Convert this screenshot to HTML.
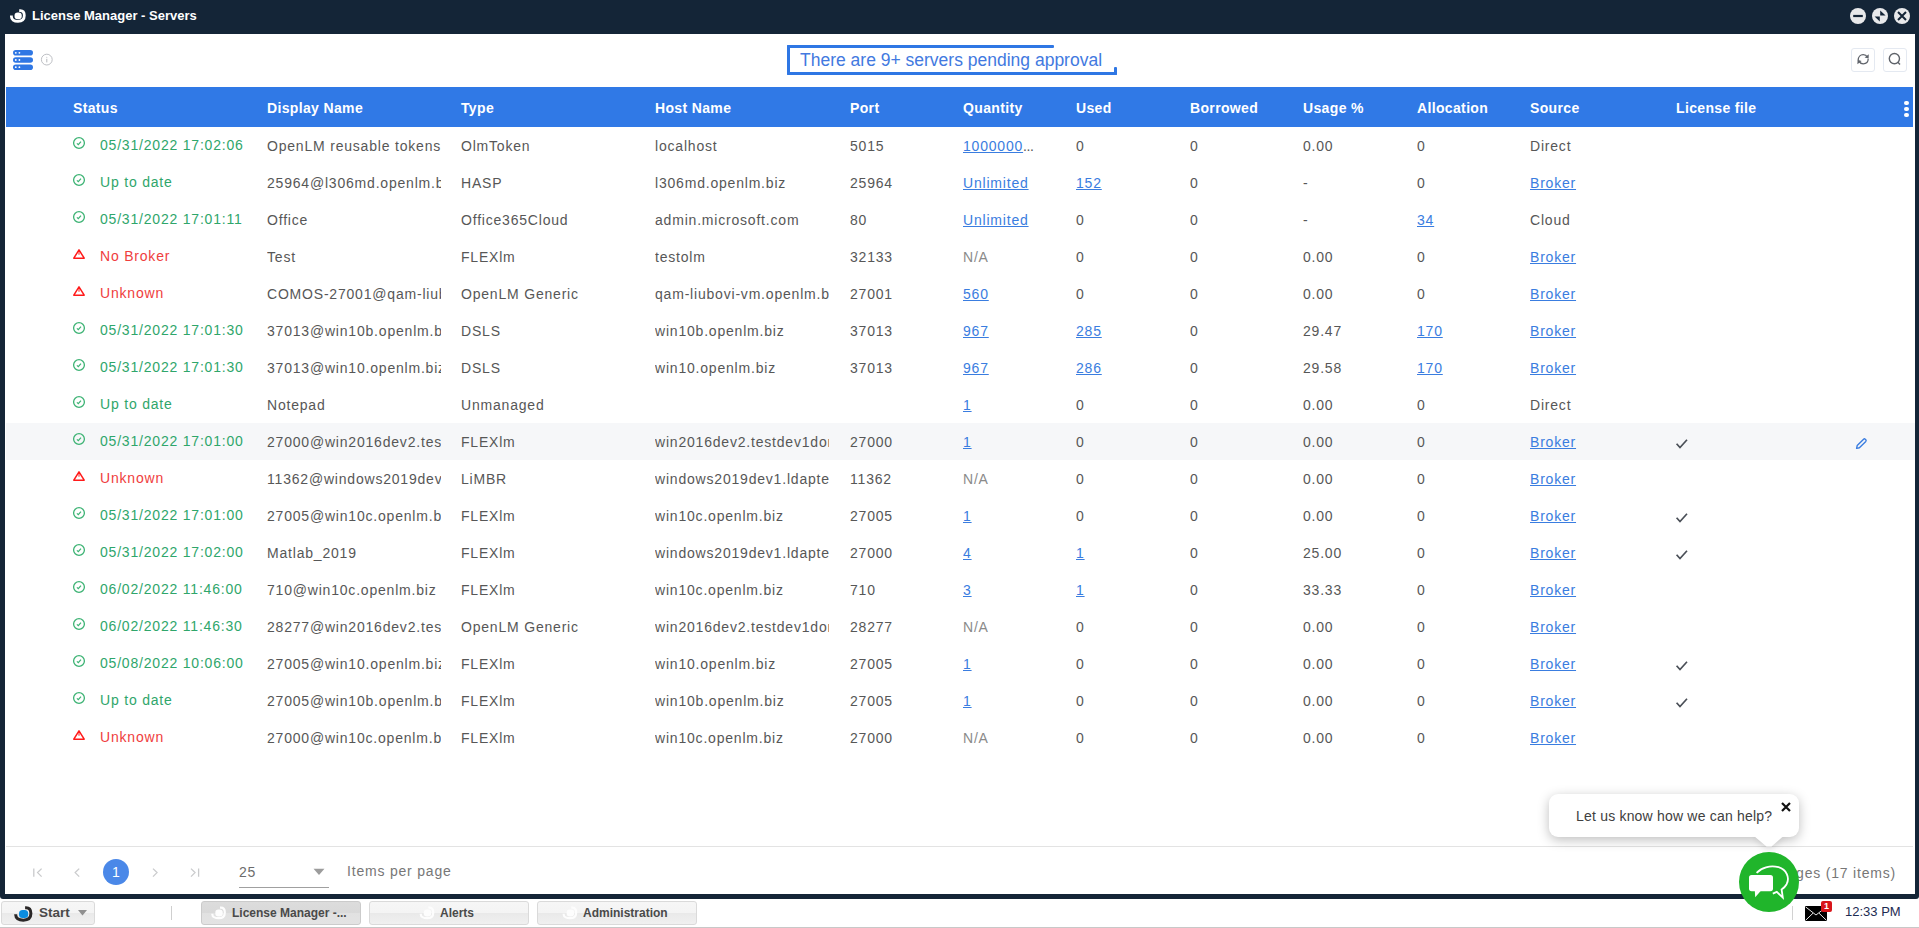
<!DOCTYPE html>
<html><head><meta charset="utf-8">
<style>
*{box-sizing:border-box}
html,body{margin:0;padding:0}
body{width:1919px;height:928px;overflow:hidden;position:relative;background:#fff;font-family:"Liberation Sans",sans-serif}
.abs{position:absolute}
#frame{position:absolute;left:0;top:0;width:1919px;height:899px;background:#142537;border-radius:0 0 3px 3px}
#title{position:absolute;left:32px;top:8px;font-size:13px;font-weight:bold;color:#fff;line-height:16px;white-space:nowrap}
#content{position:absolute;left:5px;top:34px;width:1910px;height:860px;background:#fff;overflow:hidden}
.wc{position:absolute;top:8px;width:16px;height:16px;border-radius:50%;background:#e8e9eb}
#tb{position:absolute;left:0;top:0;width:1910px;height:53px}
#grid{position:absolute;left:0;top:0;width:1919px;height:928px}
#ghead{position:absolute;left:6px;top:87px;width:1907px;height:40px;background:#3079e6}
.h{position:absolute;top:87px;height:40px;line-height:42px;color:#fff;font-weight:bold;font-size:14px;letter-spacing:0.35px;white-space:nowrap}
.row{position:absolute;left:6px;width:1909px;height:37px}
.row.hl{background:#f6f7f9}
.c{position:absolute;top:1px;height:37px;line-height:36px;font-size:14px;letter-spacing:0.8px;color:#575757;white-space:nowrap;overflow:hidden;margin-left:-6px}
.c.lk{color:#3a7de0}
.c u{text-decoration:underline;text-underline-offset:1px}
.c.st{top:0}
.c.na{color:#8a8a8a}
.c.st.g{color:#2fa66b}
.c.st.r{color:#ef3d3d}
.ic{position:absolute;top:9px;margin-left:-6px}
.si{display:block}
.tick{position:absolute;top:13px;margin-left:-6px}
.pen{position:absolute;top:14px;margin-left:-6px}
#pager-line{position:absolute;left:6px;top:846px;width:1907px;height:1px;background:#e3e3e3}
.pg{position:absolute;color:#b9b9b9;font-size:14px}
#taskbar{position:absolute;left:0;top:899px;width:1919px;height:29px;background:#fff;border-bottom:1px solid #c8c8c8}
.tbtn{position:absolute;top:2px;height:24px;border:1px solid #dadada;border-radius:3px;background:linear-gradient(#f6f6f6 0,#f4f4f4 50%,#e9e9e9 50%,#f0f0f0 100%);font-size:13px;font-weight:bold;color:#4a4a4a;line-height:22px;white-space:nowrap}
</style></head>
<body>
<div id="frame"></div>
<!-- title icon -->
<svg class="abs" style="left:0;top:0" width="34" height="34" viewBox="0 0 34 34"><path d="M19.2 10.6 H20.3 C23.3 10.6 24.3 12.8 24.3 15.6 C24.3 19.6 21.8 21.3 18 21.3 C13.8 21.3 11.4 19.5 11.4 16.6 V15.6" fill="none" stroke="#fff" stroke-width="2.8"/><rect x="14.5" y="12.5" width="7.3" height="6.8" rx="3.2" fill="#fff"/></svg>
<div id="title">License Manager - Servers</div>
<div class="wc" style="left:1850px"><svg width="16" height="16" viewBox="0 0 16 16"><rect x="3.2" y="6.9" width="9.6" height="2.2" fill="#142537"/></svg></div>
<div class="wc" style="left:1872px"><svg width="16" height="16" viewBox="0 0 16 16"><path d="M8.2 2.4 L13.6 7.6 L8.2 7.6 Z M7.8 13.4 L2.6 8.4 L7.8 8.4 Z" fill="#142537"/></svg></div>
<div class="wc" style="left:1894px"><svg width="16" height="16" viewBox="0 0 16 16"><path d="M4 4 L12 12 M12 4 L4 12" stroke="#142537" stroke-width="2"/></svg></div>

<div id="content"></div>

<div id="grid">
<!-- toolbar left icons -->
<svg class="abs" style="left:13px;top:50px" width="20" height="20" viewBox="0 0 20 20">
<rect x="0" y="0" width="20" height="5.6" rx="2.8" fill="#2f77e4"/><rect x="0" y="7.2" width="20" height="5.6" rx="2.8" fill="#2f77e4"/><rect x="0" y="14.4" width="20" height="5.6" rx="2.8" fill="#2f77e4"/>
<circle cx="2.8" cy="2.8" r="0.9" fill="#fff"/><circle cx="6.4" cy="2.8" r="0.9" fill="#fff"/>
<circle cx="2.8" cy="10" r="0.9" fill="#fff"/><circle cx="6.4" cy="10" r="0.9" fill="#fff"/>
<circle cx="2.8" cy="17.2" r="0.9" fill="#fff"/><circle cx="6.4" cy="17.2" r="0.9" fill="#fff"/>
</svg>
<svg class="abs" style="left:40px;top:53px" width="14" height="14" viewBox="0 0 14 14"><circle cx="6.8" cy="6.6" r="5.4" fill="none" stroke="#b5b8bd" stroke-width="0.9"/><path d="M6.8 5.8 V9.4" stroke="#b5b8bd" stroke-width="1"/><circle cx="6.8" cy="4.2" r="0.5" fill="#b5b8bd"/></svg>

<!-- banner -->
<div class="abs" style="left:787px;top:45px;width:267px;height:3px;background:#2f77e4;border-radius:1px"></div>
<div class="abs" style="left:787px;top:45px;width:3px;height:30px;background:#2f77e4;border-radius:1px"></div>
<div class="abs" style="left:787px;top:72px;width:330px;height:3px;background:#2f77e4;border-radius:1px"></div>
<div class="abs" style="left:1114px;top:67px;width:3px;height:8px;background:#2f77e4;border-radius:1px"></div>
<div class="abs" style="left:800px;top:48px;font-size:17.5px;line-height:24px;color:#4279e0;white-space:nowrap">There are 9+ servers pending approval</div>

<!-- right toolbar buttons -->
<div class="abs" style="left:1851px;top:48px;width:24px;height:24px;border:1px solid #e4e9f1;border-radius:3px"></div>
<svg class="abs" style="left:1850px;top:48px" width="26" height="24" viewBox="1850 48 26 24"><path d="M1858.2 60.2 C1858.2 56.8 1860.4 54.6 1863.2 54.6 C1865.2 54.6 1866.6 55.6 1867.4 57" fill="none" stroke="#5f636a" stroke-width="1.25"/><path d="M1868.8 54.2 L1868.6 58.6 L1864.6 57.4 Z" fill="#5f636a"/><path d="M1868.2 58.8 C1868.2 62 1866 63.8 1863.2 63.8 C1861.2 63.8 1859.8 62.8 1859 61.4" fill="none" stroke="#5f636a" stroke-width="1.25"/><path d="M1857.4 64.2 L1857.6 59.8 L1861.6 61 Z" fill="#5f636a"/></svg>
<div class="abs" style="left:1883px;top:48px;width:24px;height:24px;border:1px solid #e4e9f1;border-radius:3px"></div>
<svg class="abs" style="left:1887px;top:52px" width="15" height="15" viewBox="0 0 15 15"><circle cx="7.4" cy="6.6" r="5.1" fill="none" stroke="#5f636a" stroke-width="1.4"/><path d="M10.9 10.2 L13 12.4" stroke="#5f636a" stroke-width="1.4"/></svg>

<div id="ghead"></div>
<div class="h" style="left:73px">Status</div><div class="h" style="left:267px">Display Name</div><div class="h" style="left:461px">Type</div><div class="h" style="left:655px">Host Name</div><div class="h" style="left:850px">Port</div><div class="h" style="left:963px">Quantity</div><div class="h" style="left:1076px">Used</div><div class="h" style="left:1190px">Borrowed</div><div class="h" style="left:1303px">Usage %</div><div class="h" style="left:1417px">Allocation</div><div class="h" style="left:1530px">Source</div><div class="h" style="left:1676px">License file</div>
<div class="abs" style="left:1904.4px;top:100.9px;width:4.6px;height:4.6px;border-radius:50%;background:#fff"></div>
<div class="abs" style="left:1904.4px;top:106.7px;width:4.6px;height:4.6px;border-radius:50%;background:#fff"></div>
<div class="abs" style="left:1904.4px;top:112.5px;width:4.6px;height:4.6px;border-radius:50%;background:#fff"></div>

<div class="row" style="top:127px"><div class="ic" style="left:72px"><svg class="si" width="14" height="14" viewBox="0 0 14 14"><circle cx="7" cy="7" r="5.4" fill="none" stroke="#3db374" stroke-width="1.3"/><path d="M4.9 7.4 L6.3 8.7 L9 5.6" fill="none" stroke="#3db374" stroke-width="1.2"/></svg></div><div class="c st g" style="left:100px;width:150px">05/31/2022 17:02:06</div><div class="c" style="left:267px;width:174px">OpenLM reusable tokens</div><div class="c" style="left:461px;width:174px">OlmToken</div><div class="c" style="left:655px;width:174px">localhost</div><div class="c" style="left:850px;width:100px">5015</div><div class="c lk" style="left:963px;width:93px"><u>1000000</u><span style="letter-spacing:-0.4px;color:#555">...</span></div><div class="c" style="left:1076px;width:100px">0</div><div class="c" style="left:1190px;width:100px">0</div><div class="c" style="left:1303px;width:100px">0.00</div><div class="c" style="left:1417px;width:100px">0</div><div class="c" style="left:1530px;width:120px">Direct</div></div>
<div class="row" style="top:164px"><div class="ic" style="left:72px"><svg class="si" width="14" height="14" viewBox="0 0 14 14"><circle cx="7" cy="7" r="5.4" fill="none" stroke="#3db374" stroke-width="1.3"/><path d="M4.9 7.4 L6.3 8.7 L9 5.6" fill="none" stroke="#3db374" stroke-width="1.2"/></svg></div><div class="c st g" style="left:100px;width:150px">Up to date</div><div class="c" style="left:267px;width:174px">25964@l306md.openlm.biz</div><div class="c" style="left:461px;width:174px">HASP</div><div class="c" style="left:655px;width:174px">l306md.openlm.biz</div><div class="c" style="left:850px;width:100px">25964</div><div class="c lk" style="left:963px;width:93px"><u>Unlimited</u></div><div class="c lk" style="left:1076px;width:100px"><u>152</u></div><div class="c" style="left:1190px;width:100px">0</div><div class="c" style="left:1303px;width:100px">-</div><div class="c" style="left:1417px;width:100px">0</div><div class="c lk" style="left:1530px;width:120px"><u>Broker</u></div></div>
<div class="row" style="top:201px"><div class="ic" style="left:72px"><svg class="si" width="14" height="14" viewBox="0 0 14 14"><circle cx="7" cy="7" r="5.4" fill="none" stroke="#3db374" stroke-width="1.3"/><path d="M4.9 7.4 L6.3 8.7 L9 5.6" fill="none" stroke="#3db374" stroke-width="1.2"/></svg></div><div class="c st g" style="left:100px;width:150px">05/31/2022 17:01:11</div><div class="c" style="left:267px;width:174px">Office</div><div class="c" style="left:461px;width:174px">Office365Cloud</div><div class="c" style="left:655px;width:174px">admin.microsoft.com</div><div class="c" style="left:850px;width:100px">80</div><div class="c lk" style="left:963px;width:93px"><u>Unlimited</u></div><div class="c" style="left:1076px;width:100px">0</div><div class="c" style="left:1190px;width:100px">0</div><div class="c" style="left:1303px;width:100px">-</div><div class="c lk" style="left:1417px;width:100px"><u>34</u></div><div class="c" style="left:1530px;width:120px">Cloud</div></div>
<div class="row" style="top:238px"><div class="ic" style="left:72px"><svg class="si" width="14" height="14" viewBox="0 0 14 14"><path d="M7 2.8 L12.2 11.2 L1.8 11.2 Z" fill="none" stroke="#ff1a1a" stroke-width="1.5" stroke-linejoin="round"/><path d="M7 5 V7.8" stroke="#ff5050" stroke-width="1.3"/></svg></div><div class="c st r" style="left:100px;width:150px">No Broker</div><div class="c" style="left:267px;width:174px">Test</div><div class="c" style="left:461px;width:174px">FLEXlm</div><div class="c" style="left:655px;width:174px">testolm</div><div class="c" style="left:850px;width:100px">32133</div><div class="c na" style="left:963px;width:93px">N/A</div><div class="c" style="left:1076px;width:100px">0</div><div class="c" style="left:1190px;width:100px">0</div><div class="c" style="left:1303px;width:100px">0.00</div><div class="c" style="left:1417px;width:100px">0</div><div class="c lk" style="left:1530px;width:120px"><u>Broker</u></div></div>
<div class="row" style="top:275px"><div class="ic" style="left:72px"><svg class="si" width="14" height="14" viewBox="0 0 14 14"><path d="M7 2.8 L12.2 11.2 L1.8 11.2 Z" fill="none" stroke="#ff1a1a" stroke-width="1.5" stroke-linejoin="round"/><path d="M7 5 V7.8" stroke="#ff5050" stroke-width="1.3"/></svg></div><div class="c st r" style="left:100px;width:150px">Unknown</div><div class="c" style="left:267px;width:174px">COMOS-27001@qam-liubovi-vm</div><div class="c" style="left:461px;width:174px">OpenLM Generic</div><div class="c" style="left:655px;width:174px">qam-liubovi-vm.openlm.biz</div><div class="c" style="left:850px;width:100px">27001</div><div class="c lk" style="left:963px;width:93px"><u>560</u></div><div class="c" style="left:1076px;width:100px">0</div><div class="c" style="left:1190px;width:100px">0</div><div class="c" style="left:1303px;width:100px">0.00</div><div class="c" style="left:1417px;width:100px">0</div><div class="c lk" style="left:1530px;width:120px"><u>Broker</u></div></div>
<div class="row" style="top:312px"><div class="ic" style="left:72px"><svg class="si" width="14" height="14" viewBox="0 0 14 14"><circle cx="7" cy="7" r="5.4" fill="none" stroke="#3db374" stroke-width="1.3"/><path d="M4.9 7.4 L6.3 8.7 L9 5.6" fill="none" stroke="#3db374" stroke-width="1.2"/></svg></div><div class="c st g" style="left:100px;width:150px">05/31/2022 17:01:30</div><div class="c" style="left:267px;width:174px">37013@win10b.openlm.biz</div><div class="c" style="left:461px;width:174px">DSLS</div><div class="c" style="left:655px;width:174px">win10b.openlm.biz</div><div class="c" style="left:850px;width:100px">37013</div><div class="c lk" style="left:963px;width:93px"><u>967</u></div><div class="c lk" style="left:1076px;width:100px"><u>285</u></div><div class="c" style="left:1190px;width:100px">0</div><div class="c" style="left:1303px;width:100px">29.47</div><div class="c lk" style="left:1417px;width:100px"><u>170</u></div><div class="c lk" style="left:1530px;width:120px"><u>Broker</u></div></div>
<div class="row" style="top:349px"><div class="ic" style="left:72px"><svg class="si" width="14" height="14" viewBox="0 0 14 14"><circle cx="7" cy="7" r="5.4" fill="none" stroke="#3db374" stroke-width="1.3"/><path d="M4.9 7.4 L6.3 8.7 L9 5.6" fill="none" stroke="#3db374" stroke-width="1.2"/></svg></div><div class="c st g" style="left:100px;width:150px">05/31/2022 17:01:30</div><div class="c" style="left:267px;width:174px">37013@win10.openlm.biz</div><div class="c" style="left:461px;width:174px">DSLS</div><div class="c" style="left:655px;width:174px">win10.openlm.biz</div><div class="c" style="left:850px;width:100px">37013</div><div class="c lk" style="left:963px;width:93px"><u>967</u></div><div class="c lk" style="left:1076px;width:100px"><u>286</u></div><div class="c" style="left:1190px;width:100px">0</div><div class="c" style="left:1303px;width:100px">29.58</div><div class="c lk" style="left:1417px;width:100px"><u>170</u></div><div class="c lk" style="left:1530px;width:120px"><u>Broker</u></div></div>
<div class="row" style="top:386px"><div class="ic" style="left:72px"><svg class="si" width="14" height="14" viewBox="0 0 14 14"><circle cx="7" cy="7" r="5.4" fill="none" stroke="#3db374" stroke-width="1.3"/><path d="M4.9 7.4 L6.3 8.7 L9 5.6" fill="none" stroke="#3db374" stroke-width="1.2"/></svg></div><div class="c st g" style="left:100px;width:150px">Up to date</div><div class="c" style="left:267px;width:174px">Notepad</div><div class="c" style="left:461px;width:174px">Unmanaged</div><div class="c lk" style="left:963px;width:93px"><u>1</u></div><div class="c" style="left:1076px;width:100px">0</div><div class="c" style="left:1190px;width:100px">0</div><div class="c" style="left:1303px;width:100px">0.00</div><div class="c" style="left:1417px;width:100px">0</div><div class="c" style="left:1530px;width:120px">Direct</div></div>
<div class="row hl" style="top:423px"><div class="ic" style="left:72px"><svg class="si" width="14" height="14" viewBox="0 0 14 14"><circle cx="7" cy="7" r="5.4" fill="none" stroke="#3db374" stroke-width="1.3"/><path d="M4.9 7.4 L6.3 8.7 L9 5.6" fill="none" stroke="#3db374" stroke-width="1.2"/></svg></div><div class="c st g" style="left:100px;width:150px">05/31/2022 17:01:00</div><div class="c" style="left:267px;width:174px">27000@win2016dev2.testdev1domain</div><div class="c" style="left:461px;width:174px">FLEXlm</div><div class="c" style="left:655px;width:174px">win2016dev2.testdev1domain</div><div class="c" style="left:850px;width:100px">27000</div><div class="c lk" style="left:963px;width:93px"><u>1</u></div><div class="c" style="left:1076px;width:100px">0</div><div class="c" style="left:1190px;width:100px">0</div><div class="c" style="left:1303px;width:100px">0.00</div><div class="c" style="left:1417px;width:100px">0</div><div class="c lk" style="left:1530px;width:120px"><u>Broker</u></div><div class="tick" style="left:1675px"><svg width="14" height="12" viewBox="0 0 14 12"><path d="M1.6 5.8 L5 9.6 L12 1.8" fill="none" stroke="#4a4f57" stroke-width="1.7"/></svg></div><div class="pen" style="left:1854px"><svg width="14" height="14" viewBox="0 0 14 14"><path d="M2.6 11.4 L3.2 8.6 L9.6 2.2 Q10.4 1.5 11.2 2.2 L11.8 2.8 Q12.5 3.6 11.8 4.4 L5.4 10.8 Z" fill="none" stroke="#3a7de0" stroke-width="1.4" stroke-linejoin="round"/></svg></div></div>
<div class="row" style="top:460px"><div class="ic" style="left:72px"><svg class="si" width="14" height="14" viewBox="0 0 14 14"><path d="M7 2.8 L12.2 11.2 L1.8 11.2 Z" fill="none" stroke="#ff1a1a" stroke-width="1.5" stroke-linejoin="round"/><path d="M7 5 V7.8" stroke="#ff5050" stroke-width="1.3"/></svg></div><div class="c st r" style="left:100px;width:150px">Unknown</div><div class="c" style="left:267px;width:174px">11362@windows2019dev1.ldapte</div><div class="c" style="left:461px;width:174px">LiMBR</div><div class="c" style="left:655px;width:174px">windows2019dev1.ldaptest</div><div class="c" style="left:850px;width:100px">11362</div><div class="c na" style="left:963px;width:93px">N/A</div><div class="c" style="left:1076px;width:100px">0</div><div class="c" style="left:1190px;width:100px">0</div><div class="c" style="left:1303px;width:100px">0.00</div><div class="c" style="left:1417px;width:100px">0</div><div class="c lk" style="left:1530px;width:120px"><u>Broker</u></div></div>
<div class="row" style="top:497px"><div class="ic" style="left:72px"><svg class="si" width="14" height="14" viewBox="0 0 14 14"><circle cx="7" cy="7" r="5.4" fill="none" stroke="#3db374" stroke-width="1.3"/><path d="M4.9 7.4 L6.3 8.7 L9 5.6" fill="none" stroke="#3db374" stroke-width="1.2"/></svg></div><div class="c st g" style="left:100px;width:150px">05/31/2022 17:01:00</div><div class="c" style="left:267px;width:174px">27005@win10c.openlm.biz</div><div class="c" style="left:461px;width:174px">FLEXlm</div><div class="c" style="left:655px;width:174px">win10c.openlm.biz</div><div class="c" style="left:850px;width:100px">27005</div><div class="c lk" style="left:963px;width:93px"><u>1</u></div><div class="c" style="left:1076px;width:100px">0</div><div class="c" style="left:1190px;width:100px">0</div><div class="c" style="left:1303px;width:100px">0.00</div><div class="c" style="left:1417px;width:100px">0</div><div class="c lk" style="left:1530px;width:120px"><u>Broker</u></div><div class="tick" style="left:1675px"><svg width="14" height="12" viewBox="0 0 14 12"><path d="M1.6 5.8 L5 9.6 L12 1.8" fill="none" stroke="#4a4f57" stroke-width="1.7"/></svg></div></div>
<div class="row" style="top:534px"><div class="ic" style="left:72px"><svg class="si" width="14" height="14" viewBox="0 0 14 14"><circle cx="7" cy="7" r="5.4" fill="none" stroke="#3db374" stroke-width="1.3"/><path d="M4.9 7.4 L6.3 8.7 L9 5.6" fill="none" stroke="#3db374" stroke-width="1.2"/></svg></div><div class="c st g" style="left:100px;width:150px">05/31/2022 17:02:00</div><div class="c" style="left:267px;width:174px">Matlab_2019</div><div class="c" style="left:461px;width:174px">FLEXlm</div><div class="c" style="left:655px;width:174px">windows2019dev1.ldaptest</div><div class="c" style="left:850px;width:100px">27000</div><div class="c lk" style="left:963px;width:93px"><u>4</u></div><div class="c lk" style="left:1076px;width:100px"><u>1</u></div><div class="c" style="left:1190px;width:100px">0</div><div class="c" style="left:1303px;width:100px">25.00</div><div class="c" style="left:1417px;width:100px">0</div><div class="c lk" style="left:1530px;width:120px"><u>Broker</u></div><div class="tick" style="left:1675px"><svg width="14" height="12" viewBox="0 0 14 12"><path d="M1.6 5.8 L5 9.6 L12 1.8" fill="none" stroke="#4a4f57" stroke-width="1.7"/></svg></div></div>
<div class="row" style="top:571px"><div class="ic" style="left:72px"><svg class="si" width="14" height="14" viewBox="0 0 14 14"><circle cx="7" cy="7" r="5.4" fill="none" stroke="#3db374" stroke-width="1.3"/><path d="M4.9 7.4 L6.3 8.7 L9 5.6" fill="none" stroke="#3db374" stroke-width="1.2"/></svg></div><div class="c st g" style="left:100px;width:150px">06/02/2022 11:46:00</div><div class="c" style="left:267px;width:174px">710@win10c.openlm.biz</div><div class="c" style="left:461px;width:174px">FLEXlm</div><div class="c" style="left:655px;width:174px">win10c.openlm.biz</div><div class="c" style="left:850px;width:100px">710</div><div class="c lk" style="left:963px;width:93px"><u>3</u></div><div class="c lk" style="left:1076px;width:100px"><u>1</u></div><div class="c" style="left:1190px;width:100px">0</div><div class="c" style="left:1303px;width:100px">33.33</div><div class="c" style="left:1417px;width:100px">0</div><div class="c lk" style="left:1530px;width:120px"><u>Broker</u></div></div>
<div class="row" style="top:608px"><div class="ic" style="left:72px"><svg class="si" width="14" height="14" viewBox="0 0 14 14"><circle cx="7" cy="7" r="5.4" fill="none" stroke="#3db374" stroke-width="1.3"/><path d="M4.9 7.4 L6.3 8.7 L9 5.6" fill="none" stroke="#3db374" stroke-width="1.2"/></svg></div><div class="c st g" style="left:100px;width:150px">06/02/2022 11:46:30</div><div class="c" style="left:267px;width:174px">28277@win2016dev2.testdev1domain</div><div class="c" style="left:461px;width:174px">OpenLM Generic</div><div class="c" style="left:655px;width:174px">win2016dev2.testdev1domain</div><div class="c" style="left:850px;width:100px">28277</div><div class="c na" style="left:963px;width:93px">N/A</div><div class="c" style="left:1076px;width:100px">0</div><div class="c" style="left:1190px;width:100px">0</div><div class="c" style="left:1303px;width:100px">0.00</div><div class="c" style="left:1417px;width:100px">0</div><div class="c lk" style="left:1530px;width:120px"><u>Broker</u></div></div>
<div class="row" style="top:645px"><div class="ic" style="left:72px"><svg class="si" width="14" height="14" viewBox="0 0 14 14"><circle cx="7" cy="7" r="5.4" fill="none" stroke="#3db374" stroke-width="1.3"/><path d="M4.9 7.4 L6.3 8.7 L9 5.6" fill="none" stroke="#3db374" stroke-width="1.2"/></svg></div><div class="c st g" style="left:100px;width:150px">05/08/2022 10:06:00</div><div class="c" style="left:267px;width:174px">27005@win10.openlm.biz</div><div class="c" style="left:461px;width:174px">FLEXlm</div><div class="c" style="left:655px;width:174px">win10.openlm.biz</div><div class="c" style="left:850px;width:100px">27005</div><div class="c lk" style="left:963px;width:93px"><u>1</u></div><div class="c" style="left:1076px;width:100px">0</div><div class="c" style="left:1190px;width:100px">0</div><div class="c" style="left:1303px;width:100px">0.00</div><div class="c" style="left:1417px;width:100px">0</div><div class="c lk" style="left:1530px;width:120px"><u>Broker</u></div><div class="tick" style="left:1675px"><svg width="14" height="12" viewBox="0 0 14 12"><path d="M1.6 5.8 L5 9.6 L12 1.8" fill="none" stroke="#4a4f57" stroke-width="1.7"/></svg></div></div>
<div class="row" style="top:682px"><div class="ic" style="left:72px"><svg class="si" width="14" height="14" viewBox="0 0 14 14"><circle cx="7" cy="7" r="5.4" fill="none" stroke="#3db374" stroke-width="1.3"/><path d="M4.9 7.4 L6.3 8.7 L9 5.6" fill="none" stroke="#3db374" stroke-width="1.2"/></svg></div><div class="c st g" style="left:100px;width:150px">Up to date</div><div class="c" style="left:267px;width:174px">27005@win10b.openlm.biz</div><div class="c" style="left:461px;width:174px">FLEXlm</div><div class="c" style="left:655px;width:174px">win10b.openlm.biz</div><div class="c" style="left:850px;width:100px">27005</div><div class="c lk" style="left:963px;width:93px"><u>1</u></div><div class="c" style="left:1076px;width:100px">0</div><div class="c" style="left:1190px;width:100px">0</div><div class="c" style="left:1303px;width:100px">0.00</div><div class="c" style="left:1417px;width:100px">0</div><div class="c lk" style="left:1530px;width:120px"><u>Broker</u></div><div class="tick" style="left:1675px"><svg width="14" height="12" viewBox="0 0 14 12"><path d="M1.6 5.8 L5 9.6 L12 1.8" fill="none" stroke="#4a4f57" stroke-width="1.7"/></svg></div></div>
<div class="row" style="top:719px"><div class="ic" style="left:72px"><svg class="si" width="14" height="14" viewBox="0 0 14 14"><path d="M7 2.8 L12.2 11.2 L1.8 11.2 Z" fill="none" stroke="#ff1a1a" stroke-width="1.5" stroke-linejoin="round"/><path d="M7 5 V7.8" stroke="#ff5050" stroke-width="1.3"/></svg></div><div class="c st r" style="left:100px;width:150px">Unknown</div><div class="c" style="left:267px;width:174px">27000@win10c.openlm.biz</div><div class="c" style="left:461px;width:174px">FLEXlm</div><div class="c" style="left:655px;width:174px">win10c.openlm.biz</div><div class="c" style="left:850px;width:100px">27000</div><div class="c na" style="left:963px;width:93px">N/A</div><div class="c" style="left:1076px;width:100px">0</div><div class="c" style="left:1190px;width:100px">0</div><div class="c" style="left:1303px;width:100px">0.00</div><div class="c" style="left:1417px;width:100px">0</div><div class="c lk" style="left:1530px;width:120px"><u>Broker</u></div></div>

<div id="pager-line"></div>
<!-- pager -->
<svg class="abs" style="left:0;top:850px" width="220" height="40" viewBox="0 850 220 40"><path d="M33.8 868.4 V876.8 M41.6 868.6 L37.6 872.6 L41.6 876.6 M79.2 868.6 L75.2 872.6 L79.2 876.6 M153 868.6 L157 872.6 L153 876.6 M191 868.6 L195 872.6 L191 876.6 M198.6 868.4 V876.8" fill="none" stroke="#c9cacc" stroke-width="1.3"/></svg>
<div class="abs" style="left:103px;top:859px;width:26px;height:26px;border-radius:50%;background:#4a88e8;color:#fff;font-size:14px;text-align:center;line-height:26px">1</div>
<div class="abs" style="left:239px;top:862px;font-size:14px;line-height:20px;color:#6c6c6c;letter-spacing:0.6px">25</div>
<div class="abs" style="left:239px;top:887px;width:90px;height:1px;background:#a0a0a0"></div>
<svg class="abs" style="left:313px;top:868px" width="12" height="8" viewBox="0 0 12 8"><path d="M0.5 0.8 H11.5 L6 7 Z" fill="#9c9c9c"/></svg>
<div class="abs" style="left:347px;top:861px;font-size:14px;line-height:20px;color:#777;letter-spacing:0.8px;white-space:nowrap">Items per page</div>
<div class="abs" style="left:1600px;top:863px;width:296px;text-align:right;font-size:14px;line-height:20px;color:#777;letter-spacing:0.8px;white-space:nowrap">of 1 pages (17 items)</div>
</div>

<!-- taskbar -->
<div id="taskbar">
 <div class="tbtn" style="left:1px;width:94px"></div>
 <div class="abs" style="left:171px;top:7px;width:1px;height:14px;background:#cfcfcf"></div>
 <div class="tbtn" style="left:201px;width:160px;background:linear-gradient(#dcdcdc 0,#d9d9d9 50%,#e1e1e1 50%,#e3e3e3 100%);border-color:#cbcbcb"></div>
 <div class="tbtn" style="left:369px;width:160px"></div>
 <div class="tbtn" style="left:537px;width:160px"></div>
 <div class="abs" style="left:1792px;top:7px;width:1px;height:14px;background:#d2d2d2"></div>
</div>
<svg class="abs" style="left:0;top:899px" width="720" height="29" viewBox="0 0 720 29"><path d="M25.1 8.8 H26 C29.6 8.8 30.9 11.3 30.9 14.6 C30.9 19.2 28 21.2 23.3 21.2 C18.4 21.2 15.7 19.2 15.7 15.8 V15.2" fill="none" stroke="#2a2727" stroke-width="3"/><rect x="19" y="11" width="9.2" height="8.1" rx="3.6" fill="#0b8de0"/><path d="M220.00 8.6 H220.85 C223.65 8.6 224.80 10.6 224.80 13.4 C224.80 17.4 222.15 19.2 218.55 19.2 C214.95 19.2 212.35 17.5 212.35 15.4 V14.7" fill="none" stroke="#fdfdfd" stroke-width="2.2"/><rect x="215.30" y="10.6" width="7.5" height="6.9" rx="3.2" fill="#fdfdfd"/><path d="M428.45 8.6 H429.30 C432.10 8.6 433.25 10.6 433.25 13.4 C433.25 17.4 430.60 19.2 427.00 19.2 C423.40 19.2 420.80 17.5 420.80 15.4 V14.7" fill="none" stroke="#fdfdfd" stroke-width="2.2"/><rect x="423.75" y="10.6" width="7.5" height="6.9" rx="3.2" fill="#fdfdfd"/><path d="M571.35 8.6 H572.20 C575.00 8.6 576.15 10.6 576.15 13.4 C576.15 17.4 573.50 19.2 569.90 19.2 C566.30 19.2 563.70 17.5 563.70 15.4 V14.7" fill="none" stroke="#fdfdfd" stroke-width="2.2"/><rect x="566.65" y="10.6" width="7.5" height="6.9" rx="3.2" fill="#fdfdfd"/></svg>
<div class="abs" style="left:39px;top:904px;font-size:13.5px;font-weight:bold;color:#4a4a4a;line-height:18px">Start</div>
<svg class="abs" style="left:78px;top:910px" width="9" height="6" viewBox="0 0 9 6"><path d="M0 0 H9 L4.5 5.5 Z" fill="#8f8f8f"/></svg>
<div class="abs" style="left:232px;top:904px;font-size:12px;font-weight:bold;color:#4a4a4a;line-height:18px;white-space:nowrap">License Manager -...</div>
<div class="abs" style="left:440px;top:904px;font-size:12px;font-weight:bold;color:#4a4a4a;line-height:18px">Alerts</div>
<div class="abs" style="left:583px;top:904px;font-size:12px;font-weight:bold;color:#4a4a4a;line-height:18px">Administration</div>

<!-- mail + clock -->
<svg class="abs" style="left:1805px;top:906px" width="22" height="15" viewBox="0 0 22 15"><rect x="0" y="0" width="22" height="15" fill="#000"/><path d="M0.5 0.8 L11 9 L21.5 0.8 M0.5 14.4 L8 7.2 M21.5 14.4 L14 7.2" fill="none" stroke="#fff" stroke-width="0.9"/></svg>
<div class="abs" style="left:1821px;top:901px;width:11px;height:11px;background:#d8161b;border-radius:2px;color:#fff;font-size:9px;font-weight:bold;line-height:11px;text-align:center">1</div>
<div class="abs" style="left:1845px;top:904px;font-size:13px;color:#1d2b52;line-height:16px;white-space:nowrap">12:33 PM</div>

<!-- chat popup -->
<div class="abs" style="left:1549px;top:794px;width:250px;height:43px;background:#fff;border-radius:9px;box-shadow:0 3px 12px rgba(0,0,0,0.26)"></div>
<svg class="abs" style="left:1740px;top:830px;overflow:visible" width="60" height="24" viewBox="1740 830 60 24"><path d="M1754 836 L1766.5 846.6 L1771.5 846.6 L1783.5 836 Z" fill="#fff" style="filter:drop-shadow(0 2px 3px rgba(0,0,0,0.14))"/><rect x="1748" y="826" width="40" height="10.6" fill="#fff"/></svg>
<div class="abs" style="left:1576px;top:807px;font-size:14px;color:#404040;line-height:18px;white-space:nowrap;letter-spacing:0.2px">Let us know how we can help?</div>
<svg class="abs" style="left:1780px;top:801px" width="12" height="12" viewBox="0 0 12 12"><path d="M2 2 L10 10 M10 2 L2 10" stroke="#111" stroke-width="2.2"/></svg>
<div class="abs" style="left:1739px;top:852px;width:60px;height:60px;border-radius:50%;background:#20b52b"></div>
<svg class="abs" style="left:1739px;top:852px" width="60" height="60" viewBox="0 0 60 60">
<path d="M17.6 20.8 C22 15.8 31 13 39.5 15.2 C47.5 17.5 51 25.5 47.6 32.2 C46.3 34.6 44.5 36.2 42.6 37.4 L43.8 45.6 L37.8 39.9 L33.8 41.6" fill="none" stroke="#fff" stroke-width="1.8" stroke-linejoin="miter"/>
<rect x="10" y="22.9" width="24" height="16.3" rx="2.6" fill="#fff"/>
<path d="M15.8 38 L16.2 45.3 L22.6 38 Z" fill="#fff"/>
</svg>
</body></html>
